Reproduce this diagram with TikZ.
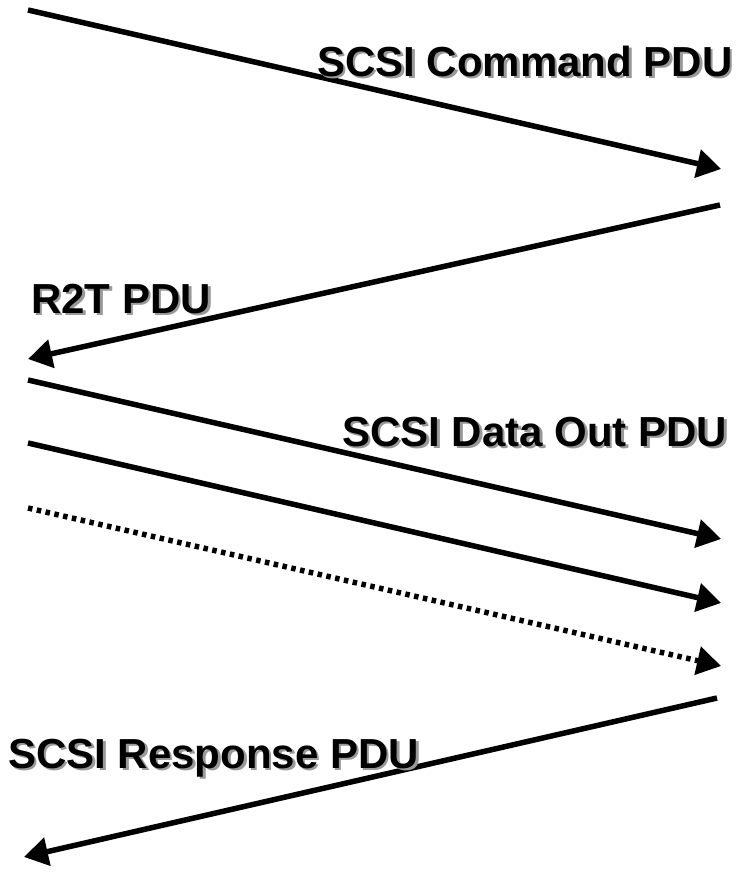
\documentclass[tikz,border=0pt]{standalone}
\usepackage{fontspec}
\setmainfont{Liberation Sans}
\usetikzlibrary{arrows.meta}
\newcommand{\pdulabel}[1]{\makebox[0pt][l]{\hspace{2.5pt}\raisebox{-2.5pt}{\color{black!40}#1}}#1}
\begin{document}
\begin{tikzpicture}[x=1pt,y=-1pt,
  pdu/.style={line width=5.5pt,-{Triangle[length=24pt,width=28pt]}},
  dots/.style={dash pattern=on 4.5pt off 4.5pt},
  lbl/.style={inner sep=0pt,anchor=base west,font=\fontsize{42}{42}\selectfont\bfseries}]
\useasboundingbox (0,0) rectangle (749,875);
% end points
\coordinate (a1) at (28,10);   \coordinate (b1) at (721,169);
\coordinate (a2) at (720,205); \coordinate (b2) at (28,359);
\coordinate (a3) at (28,380);  \coordinate (b3) at (721,539);
\coordinate (a4) at (28,443);  \coordinate (b4) at (721,603);
\coordinate (a5) at (28,508);  \coordinate (b5) at (721,666);
\coordinate (a6) at (717,698); \coordinate (b6) at (24,857);
\draw[pdu] (a1) -- (b1);
\draw[pdu] (a2) -- (b2);
\draw[pdu] (a3) -- (b3);
\draw[pdu] (a4) -- (b4);
\draw[pdu,dots] (a5) -- (b5);
\draw[pdu] (a6) -- (b6);
% labels with shadow
\node[lbl] (t1) at (317,76) {\pdulabel{SCSI Command PDU}};
\node[lbl] (t2) at (31,313) {\pdulabel{R2T PDU}};
\node[lbl] (t3) at (342,446) {\pdulabel{SCSI Data Out PDU}};
\node[lbl] (t4) at (8,768) {\pdulabel{SCSI Response PDU}};
\end{tikzpicture}
\end{document}
